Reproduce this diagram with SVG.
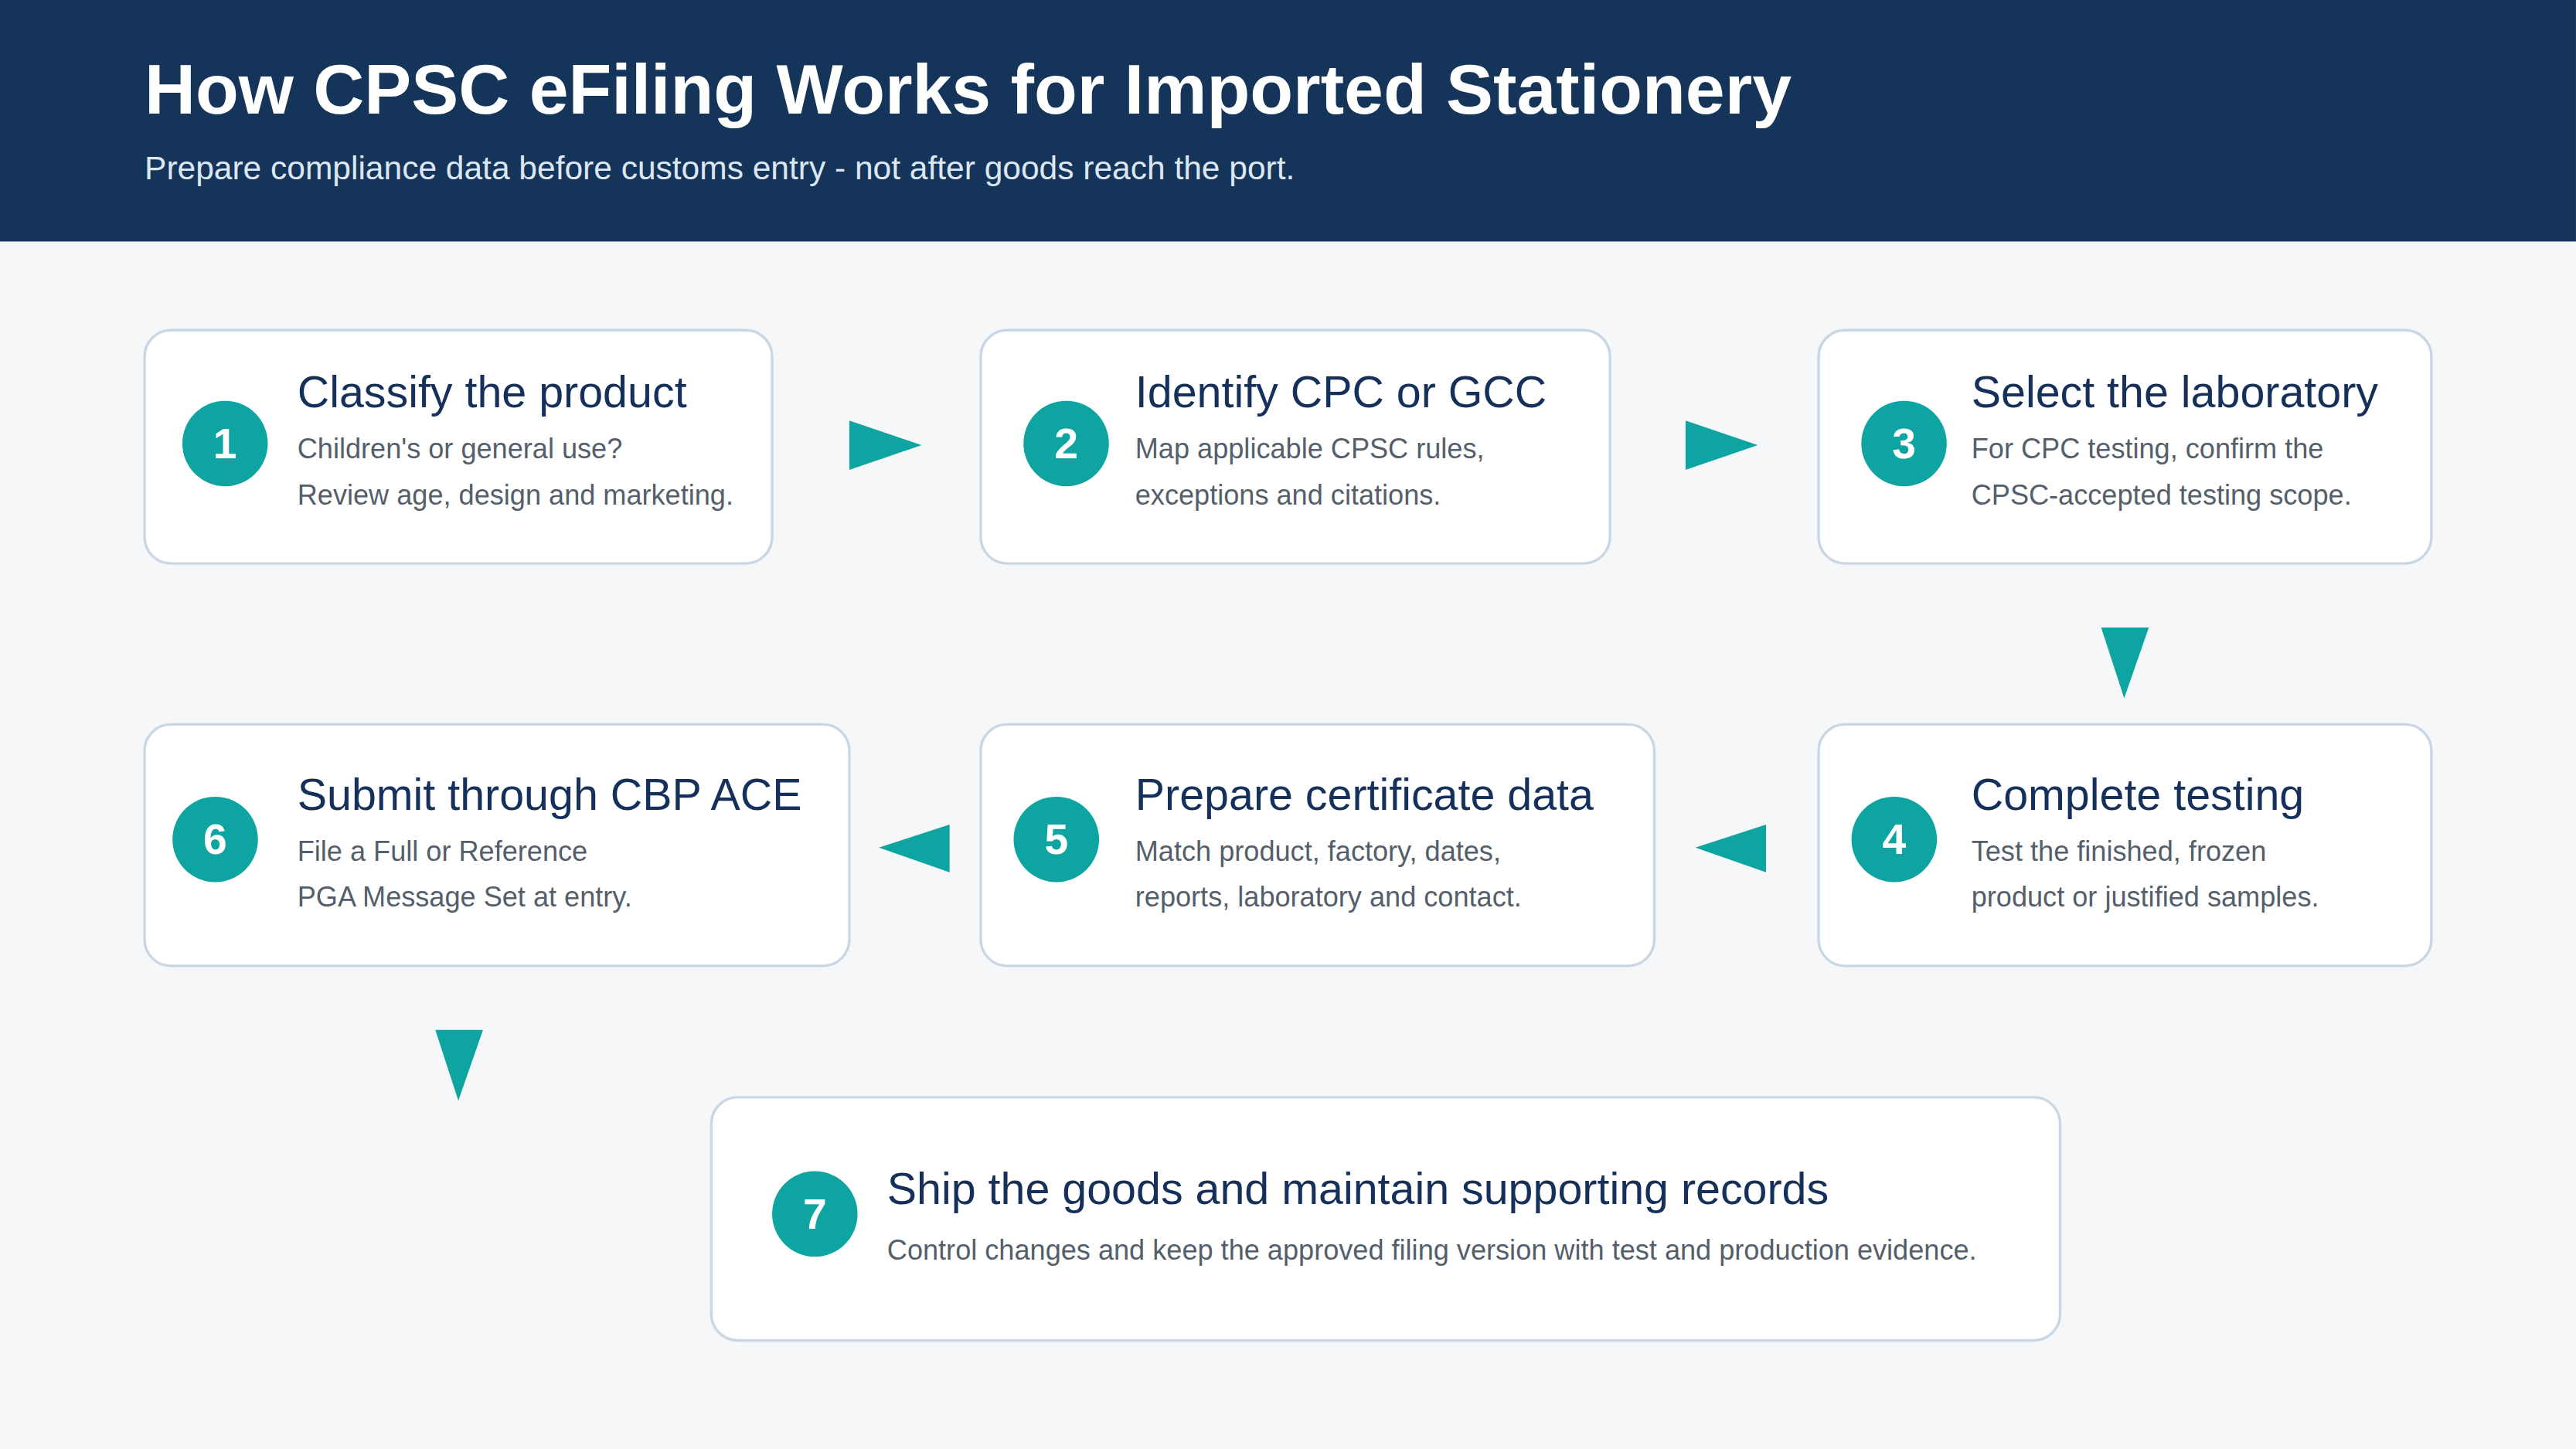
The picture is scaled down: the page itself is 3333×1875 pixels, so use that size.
<svg xmlns="http://www.w3.org/2000/svg" width="3333" height="1875" viewBox="0 0 3333 1875">
<style>
.box{fill:#fff;stroke:#c9d7e5;stroke-width:1.6}
.num{fill:#0ea4a1}
.nt{font-family:"Liberation Sans",Arial,sans-serif;font-weight:bold;font-size:26px;fill:#fff;text-anchor:middle}
.t{font-family:"Liberation Sans",Arial,sans-serif;font-size:27px;fill:#15305a}
.d{font-family:"Liberation Sans",Arial,sans-serif;font-size:17px;fill:#555f6b}
.arr{fill:#0ea4a1}
</style>
<rect width="3333" height="1875" fill="#f5f7f9"/>
<g transform="scale(2.1256)">
<g id="header">
<rect x="0" y="0" width="1568" height="147" fill="#15345a"/>
<text x="88" y="69" font-family="Liberation Sans,Arial,sans-serif" font-weight="bold" font-size="43" fill="#fff">How CPSC eFiling Works for Imported Stationery</text>
<text x="88" y="109" font-family="Liberation Sans,Arial,sans-serif" font-size="20" fill="#dde7f2">Prepare compliance data before customs entry - not after goods reach the port.</text>
</g>
<g id="connectors">
<polygon class="arr" points="517,256 561,271 517,286"/>
<polygon class="arr" points="1026,256 1070,271 1026,286"/>
<polygon class="arr" points="1279,382 1308,382 1293,425"/>
<polygon class="arr" points="578,502 535,516 578,531"/>
<polygon class="arr" points="1075,502 1032,516 1075,531"/>
<polygon class="arr" points="265,627 294,627 279,670"/>
</g>
<g id="step1">
<rect class="box" x="88" y="201" width="382" height="142" rx="16"/>
<circle class="num" cx="137" cy="270" r="26"/><text class="nt" x="137" y="279">1</text>
<text class="t" x="181" y="248">Classify the product</text>
<text class="d" x="181" y="279">Children's or general use?</text>
<text class="d" x="181" y="307">Review age, design and marketing.</text>
</g>
<g id="step2">
<rect class="box" x="597" y="201" width="383" height="142" rx="16"/>
<circle class="num" cx="649" cy="270" r="26"/><text class="nt" x="649" y="279">2</text>
<text class="t" x="691" y="248">Identify CPC or GCC</text>
<text class="d" x="691" y="279">Map applicable CPSC rules,</text>
<text class="d" x="691" y="307">exceptions and citations.</text>
</g>
<g id="step3">
<rect class="box" x="1107" y="201" width="373" height="142" rx="16"/>
<circle class="num" cx="1159" cy="270" r="26"/><text class="nt" x="1159" y="279">3</text>
<text class="t" x="1200" y="248">Select the laboratory</text>
<text class="d" x="1200" y="279">For CPC testing, confirm the</text>
<text class="d" x="1200" y="307">CPSC-accepted testing scope.</text>
</g>
<g id="step4">
<rect class="box" x="1107" y="441" width="373" height="147" rx="16"/>
<circle class="num" cx="1153" cy="511" r="26"/><text class="nt" x="1153" y="520">4</text>
<text class="t" x="1200" y="493">Complete testing</text>
<text class="d" x="1200" y="524">Test the finished, frozen</text>
<text class="d" x="1200" y="552">product or justified samples.</text>
</g>
<g id="step5">
<rect class="box" x="597" y="441" width="410" height="147" rx="16"/>
<circle class="num" cx="643" cy="511" r="26"/><text class="nt" x="643" y="520">5</text>
<text class="t" x="691" y="493">Prepare certificate data</text>
<text class="d" x="691" y="524">Match product, factory, dates,</text>
<text class="d" x="691" y="552">reports, laboratory and contact.</text>
</g>
<g id="step6">
<rect class="box" x="88" y="441" width="429" height="147" rx="16"/>
<circle class="num" cx="131" cy="511" r="26"/><text class="nt" x="131" y="520">6</text>
<text class="t" x="181" y="493">Submit through CBP ACE</text>
<text class="d" x="181" y="524">File a Full or Reference</text>
<text class="d" x="181" y="552">PGA Message Set at entry.</text>
</g>
<g id="step7">
<rect class="box" x="433" y="668" width="821" height="148" rx="16"/>
<circle class="num" cx="496" cy="739" r="26"/><text class="nt" x="496" y="748">7</text>
<text class="t" x="540" y="733">Ship the goods and maintain supporting records</text>
<text class="d" x="540" y="767">Control changes and keep the approved filing version with test and production evidence.</text>
</g>
</g>
</svg>
